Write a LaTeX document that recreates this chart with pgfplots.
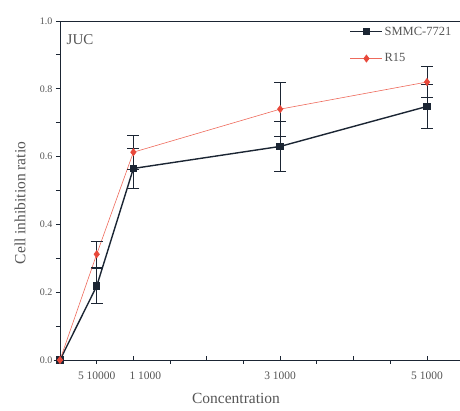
\documentclass[border=0pt]{standalone}
\usepackage{fontspec}
\setmainfont{Liberation Serif}
\usepackage{pgfplots}
\pgfplotsset{compat=1.18}
\usetikzlibrary{calc}
\definecolor{ink}{HTML}{1B2533}
\definecolor{redline}{HTML}{EE6A5C}
\definecolor{redmark}{HTML}{E8483A}
\definecolor{txt}{HTML}{555555}
\begin{document}
\begin{tikzpicture}
\begin{axis}[
  name=ax, scale only axis, width=400pt, height=339pt,
  xmin=0, xmax=10.9, ymin=0, ymax=1,
  axis x line*=bottom, axis y line*=left,
  axis line style={draw=ink, line width=0.9pt},
  xtick={2,4,6,8,10}, xticklabels={},
  minor xtick={1,3,5,7,9},
  xtick align=inside,
  minor x tick style={yshift=-4pt},
  extra x ticks={1,2,6,10},
  extra x tick labels={5 10000,\hspace*{24pt}1 1000,3 1000,5 1000},
  extra x tick style={major tick length=0pt},
  ytick={0,0.2,...,1.0}, minor ytick={0.1,0.3,0.5,0.7,0.9},
  ytick align=outside,
  major tick length=4pt, minor tick length=4pt,
  tick style={draw=ink, line width=0.8pt},
  yticklabel style={/pgf/number format/.cd, fixed, fixed zerofill, precision=1},
  /pgf/number format/assume math mode=true,
  ticklabel style={font=\fontsize{10}{11}\selectfont, text=txt},
  xticklabel style={font=\fontsize{11.5}{12}\selectfont, yshift=-8pt},
  xlabel={Concentration}, ylabel={Cell inhibition ratio},
  label style={font=\fontsize{15.5}{16}\selectfont, text=txt},
  xlabel style={at={(axis description cs:0.44,-0.112)}, anchor=center},
  ylabel style={at={(axis description cs:-0.1,0.463)}, anchor=center},
  clip=false,
  legend style={draw=none, fill=none, at={(rel axis cs:0.99,0.995)}, anchor=north east,
    font=\fontsize{12.5}{13}\selectfont, text=txt, row sep=13pt,
    nodes={inner xsep=1.5pt}},
  legend cell align=left,
  legend image code/.code={\draw[#1, mark repeat=2, mark phase=2]
    plot coordinates {(0pt,0pt) (16pt,0pt) (32pt,0pt)};},
]
\addplot[color=ink, line width=1.4pt, mark=square*, mark size=3pt,
  error bars/.cd, y dir=both, y explicit,
  error bar style={line width=0.9pt, color=ink},
  error mark options={rotate=90, mark size=6pt, line width=0.9pt}]
  coordinates {
  (0,0) +- (0,0)
  (1,0.218) +- (0,0.052)
  (2,0.565) +- (0,0.06)
  (6,0.63) +- (0,0.075)
  (10,0.748) +- (0,0.065)
};
\addlegendentry{SMMC-7721}
\addplot[color=redline, line width=0.6pt, mark=diamond*, mark size=3.6pt,
  mark options={fill=redmark, draw=redmark},
  error bars/.cd, y dir=both, y explicit,
  error bar style={line width=0.9pt, color=ink},
  error mark options={rotate=90, mark size=6pt, line width=0.9pt, draw=ink}]
  coordinates {
  (0,0) +- (0,0)
  (1,0.312) +- (0,0.038)
  (2,0.613) +- (0,0.05)
  (6,0.74) +- (0,0.08)
  (10,0.82) +- (0,0.045)
};
\addlegendentry{R15}
\draw[ink, line width=0.9pt] (rel axis cs:0,1) -- (rel axis cs:1,1);
\node[anchor=west, font=\fontsize{15}{16}\selectfont, text=txt] at (rel axis cs:0.008,0.944) {JUC};
\end{axis}
\pgfresetboundingbox
\path ($(ax.south west)+(-60pt,-51pt)$) rectangle ($(ax.north east)+(0pt,21pt)$);
\end{tikzpicture}
\end{document}
